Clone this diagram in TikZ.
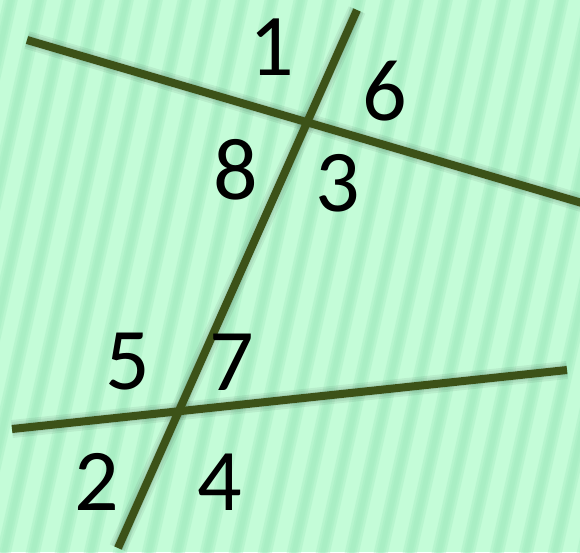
\documentclass[tikz,border=0pt]{standalone}
\usepackage{fontspec}
\setmainfont{Carlito}
\definecolor{mint}{RGB}{196,252,216}
\definecolor{stripe}{RGB}{160,234,190}
\definecolor{olive}{RGB}{60,82,24}
\tikzset{
  ray/.style={olive, line width=8pt},
  shade/.style={black, line width=#1, opacity=0.06},
  band/.style={stripe, line width=#1, opacity=0.35},
  angle/.style={font=\fontsize{88}{88}\selectfont, inner sep=0pt}
}
\begin{document}
\begin{tikzpicture}[x=1pt, y=-1pt]
    \useasboundingbox (0, 0) rectangle (580, 552);
    \clip (0, 0) rectangle (580, 552);
    \fill[mint] (0, 0) rectangle (580, 552);
    % soft stripes of the background
    \foreach \i in {-7, ..., 22} {
      \foreach \w in {14, 9, 5} {
        \draw[band=\w pt] (\i*29, 570)--(\i*29+130, -15);
      }
    }

    \coordinate (a1) at (27, 40);
    \coordinate (a2) at (582, 203);
    \coordinate (c1) at (12, 429);
    \coordinate (c2) at (567, 370);
    \coordinate (t1) at (357, 10);
    \coordinate (t2) at (118, 548);

    % soft shadows under the lines
    \foreach \w in {18, 14, 10} {
      \draw[shade=\w pt, shift={(2, 7)}] (a1)--(a2);
      \draw[shade=\w pt, shift={(2, 7)}] (c1)--(c2);
      \draw[shade=\w pt, shift={(5, 3)}] (t1)--(t2);
    }

    \draw[ray] (a1)--(a2);
    \draw[ray] (c1)--(c2);
    \draw[ray] (t1)--(t2);

    \node[angle] (n1) at (272, 47) {1};
    \node[angle] (n6) at (385, 91) {6};
    \node[angle] (n8) at (236, 170) {8};
    \node[angle] (n3) at (338, 183) {3};
    \node[angle] (n5) at (128, 362) {5};
    \node[angle] (n7) at (232, 362) {7};
    \node[angle] (n2) at (97, 482) {2};
    \node[angle] (n4) at (220, 482) {4};
  \end{tikzpicture}
\end{document}
